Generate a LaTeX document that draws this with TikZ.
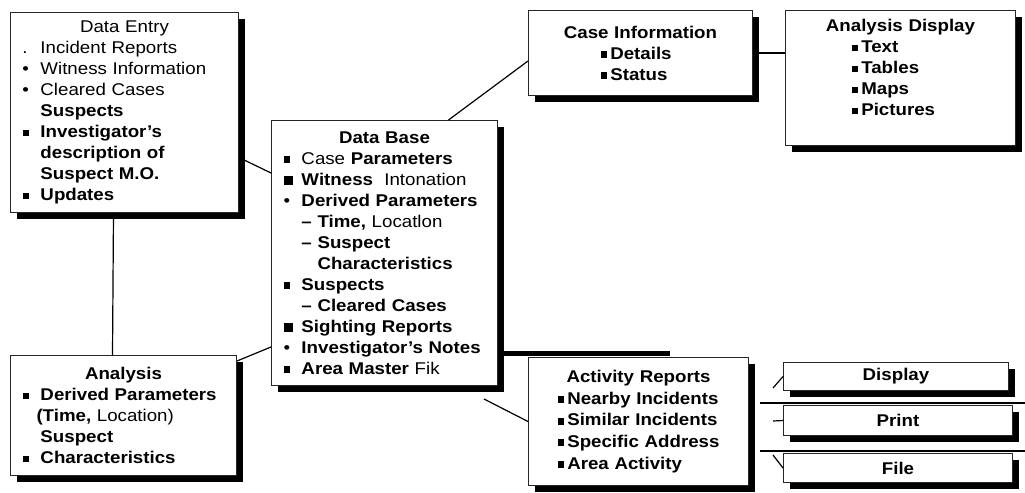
\documentclass[tikz,border=0pt]{standalone}
\usepackage{fontspec}
\setmainfont[FakeStretch=1.1]{Liberation Sans}
\usetikzlibrary{shadows}
\newcommand\sqb{\rule[0.6pt]{3.4pt}{3.4pt}}
\newcommand\itm[1]{\makebox[9pt][l]{#1}}
\newcommand\ttl[1]{\makebox[\linewidth]{#1}}

\begin{document}
\begin{tikzpicture}[x=0.5pt, y=-0.5pt,
	box/.style={draw=black!85, line width=0.5pt, fill=white, anchor=north west,
		inner xsep=6pt, inner ysep=0pt, align=left,
		font=\fontsize{8.5}{10.5}\selectfont,
		execute at begin node={\hyphenpenalty=10000\exhyphenpenalty=10000},
		drop shadow={shadow xshift=3pt, shadow yshift=-3pt, fill=black, opacity=1}},
	bar/.style={line width=0.6pt}]
				\useasboundingbox (0,0) rectangle (1025,493);

				\draw (10,12) node[box, minimum width=114pt, minimum height=100pt, text width=102pt] (dataentry)
				{\ttl{Data Entry}\\
				\itm{.}Incident Reports\\
				\itm{\textbullet}Witness Information\\
				\itm{\textbullet}Cleared Cases\\
				\itm{}\textbf{Suspects}\\
				\itm{\sqb}\textbf{Investigator's}\\
				\itm{}\textbf{description of}\\
				\itm{}\textbf{Suspect M.O.}\\
				\itm{\sqb}\textbf{Updates}};
				\draw (271,120) node[box, minimum width=113pt, minimum height=132.5pt, text width=101pt] (database)
				{\ttl{\textbf{Data Base}}\\
				\itm{\sqb}Case \textbf{Parameters}\\
				\itm{\rule[0.3pt]{4.5pt}{4.5pt}}\textbf{Witness} \ Intonation\\
				\itm{\textbullet}\textbf{Derived Parameters}\\
				\itm{}\textbf{-- Time,} Locatlon\\
				\itm{}\textbf{-- Suspect}\\
				\itm{}\textbf{\phantom{-- }Characteristics}\\
				\itm{\sqb}\textbf{Suspects}\\
				\itm{}\textbf{-- Cleared Cases}\\
				\itm{\rule[0.3pt]{4.5pt}{4.5pt}}\textbf{Sighting Reports}\\
				\itm{\textbullet}\textbf{Investigator's Notes}\\
				\itm{\sqb}\textbf{Area Master} Fik};
				\draw (528,10) node[box, minimum width=112pt, minimum height=42.5pt, text width=100pt] (caseinfo)
				{\ttl{\textbf{Case Information}}\\
				\hspace*{30pt}\sqb\hspace{1.5pt}\textbf{Details}\\
				\hspace*{30pt}\sqb\hspace{1.5pt}\textbf{Status}};
				\draw (785,10) node[box, minimum width=115pt, minimum height=67.5pt, text width=103pt] (analysisdisp)
				{\ttl{\textbf{Analysis Display}}\\
				\hspace*{27pt}\sqb\hspace{1.5pt}\textbf{Text}\\
				\hspace*{27pt}\sqb\hspace{1.5pt}\textbf{Tables}\\
				\hspace*{27pt}\sqb\hspace{1.5pt}\textbf{Maps}\\
				\hspace*{27pt}\sqb\hspace{1.5pt}\textbf{Pictures}\\
				\mbox{}};
				\draw (10,355) node[box, minimum width=113pt, minimum height=60pt, text width=101pt] (analysis)
				{\ttl{\textbf{Analysis}}\\
				\itm{\sqb}\textbf{Derived Parameters}\\
				\itm{}\hspace*{-2pt}\textbf{(Time,} Location)\\
				\itm{}\textbf{Suspect}\\
				\itm{\sqb}\textbf{Characteristics}};
				\draw (528,357) node[box, minimum width=110pt, minimum height=64pt, text width=98pt,
					font=\fontsize{8.5}{10.8}\selectfont] (activity)
				{\ttl{\textbf{Activity Reports}}\\
				\hspace*{8.5pt}\sqb\hspace{1.5pt}\textbf{Nearby Incidents}\\
				\hspace*{8.5pt}\sqb\hspace{1.5pt}\textbf{Similar Incidents}\\
				\hspace*{8.5pt}\sqb\hspace{1.5pt}\textbf{Specific Address}\\
				\hspace*{8.5pt}\sqb\hspace{1.5pt}\textbf{Area Activity}};
				\draw (783,362) node[box, minimum width=112.5pt, minimum height=14pt, text width=100.5pt] (display)
				{\ttl{\textbf{Display}}};
				\draw (783,405) node[box, minimum width=114.5pt, minimum height=15pt, text width=102.5pt] (print)
				{\ttl{\textbf{Print}}};
				\draw (783,453) node[box, minimum width=114.5pt, minimum height=14.5pt, text width=102.5pt] (file)
				{\ttl{\textbf{File}}};

				\coordinate (dstub) at (773,388);
				\coordinate (pstub) at (773,421);
				\coordinate (fstub) at (773,455);

				\path[bar]
				([xshift=-5.5pt]dataentry.south) edge ([xshift=-5.5pt]analysis.north)
				([yshift=-22.5pt]dataentry.east) edge ([yshift=40pt]database.west)
				([yshift=-3pt]analysis.north east) edge ([yshift=-47pt]database.west)
				([xshift=32pt]database.north) edge ([yshift=-4pt]caseinfo.west)
				(caseinfo.east) edge (caseinfo.east -| analysisdisp.west)
				([xshift=-7pt,yshift=-6.5pt]database.south east) edge (activity.west)
				(dstub) edge (display.west)
				(pstub) edge (print.west)
				(fstub) edge (file.west)
				;

				\draw[line width=2.5pt] ([xshift=-12.5pt,yshift=2pt]activity.north west) -- ++(83.5pt,0);
				\draw[bar] ([xshift=-11.5pt,yshift=1pt]print.north west) -- ++(132.5pt,0);
				\draw[bar] ([xshift=-11.5pt,yshift=1pt]file.north west) -- ++(132.5pt,0);
			\end{tikzpicture}
\end{document}
